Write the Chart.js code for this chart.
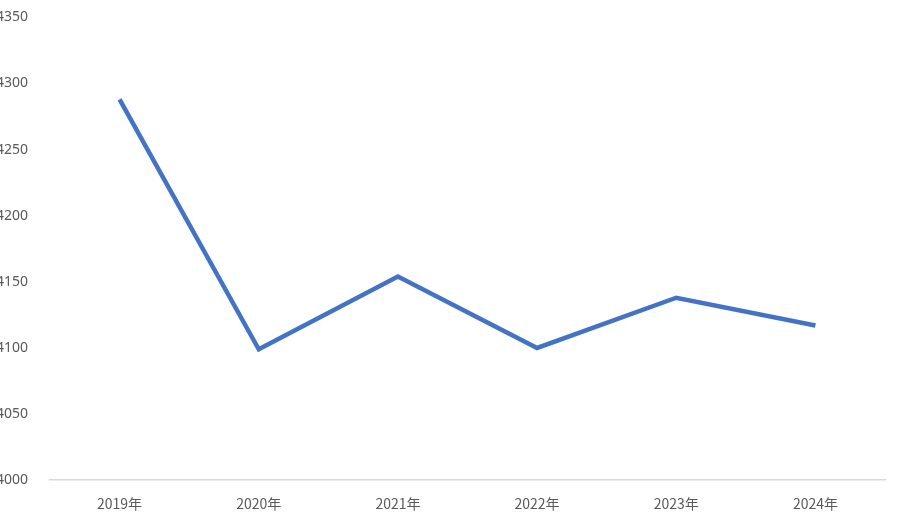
<!DOCTYPE html>
<html>
<head>
<meta charset="utf-8">
<script src="https://cdn.jsdelivr.net/npm/chart.js@4.4.0/dist/chart.umd.min.js"></script>
<style>
    html, body { margin: 0; padding: 0; background: #ffffff; overflow: hidden; }
    #wrap { position: absolute; left: -10px; top: -13px; width: 907px; height: 540px; }
</style>
</head>
<body>
<div id="wrap"><canvas id="lineChart"></canvas></div>
<script>
// values
const years = ['2019年', '2020年', '2021年', '2022年', '2023年', '2024年'];
const values = [4288, 4099, 4154, 4100, 4138, 4117];
const yMin = 4000;
const yMax = 4350;
const yStep = 50;

document.addEventListener('DOMContentLoaded', function() {
    const ctx = document.getElementById('lineChart').getContext('2d');
    new Chart(ctx, {
        type: 'line',
        data: {
            labels: years,
            datasets: [{
                data: values,
                borderColor: '#4472C4',
                borderWidth: 4.5,
                pointRadius: 0,
                tension: 0,
                fill: false
            }]
        },
        options: {
            responsive: true,
            maintainAspectRatio: false,
            animation: false,
            layout: { padding: { top: 0, right: 12, bottom: 0, left: 0 } },
            plugins: {
                legend: { display: false },
                tooltip: { enabled: false }
            },
            scales: {
                x: {
                    offset: true,
                    grid: { display: false, drawTicks: false },
                    border: { display: true, color: '#d9d9d9', width: 1.5 },
                    ticks: {
                        color: '#595959',
                        padding: 15,
                        font: { family: '"Noto Sans CJK SC", "Noto Sans", sans-serif', size: 14 }
                    }
                },
                y: {
                    min: yMin,
                    max: yMax,
                    grid: { display: false, drawTicks: false },
                    border: { display: false },
                    afterFit: function(scale) { scale.width = 60; },
                    ticks: {
                        stepSize: yStep,
                        color: '#595959',
                        padding: 22,
                        font: { family: '"Noto Sans", sans-serif', size: 14 },
                        callback: function(value) { return String(value); }
                    }
                }
            }
        }
    });
});
</script>
</body>
</html>
